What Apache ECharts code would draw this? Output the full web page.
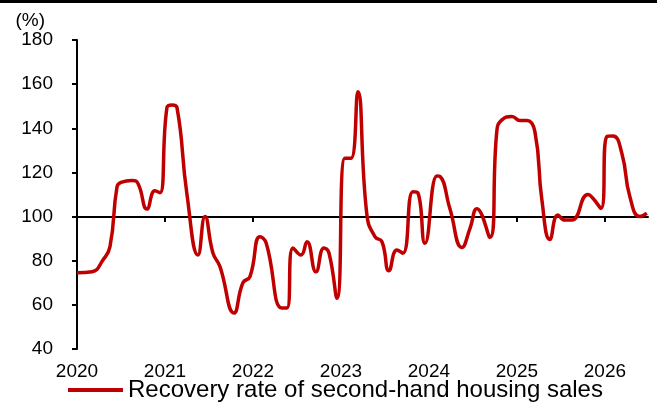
<!DOCTYPE html>
<html>
<head>
<meta charset="utf-8">
<script src="https://cdn.jsdelivr.net/npm/echarts@6/dist/echarts.min.js"></script>
<style>html,body{margin:0;padding:0;background:#fff}#c{width:657px;height:403px}</style>
</head>
<body>
<div id="c"></div>
<script>
// Time positions (decimal years) and recovery rate values (%)
const times = [2020.000,2020.170,2020.295,2020.375,2020.455,2020.500,2020.625,2020.693,2020.795,2020.886,2020.943,
  2021.023,2021.080,2021.136,2021.250,2021.375,2021.455,2021.545,2021.625,2021.784,2021.886,2021.966,
  2022.080,2022.150,2022.330,2022.386,2022.455,2022.545,2022.614,2022.716,2022.807,2022.864,2022.955,
  2023.045,2023.114,2023.193,2023.295,2023.386,2023.466,2023.545,2023.636,2023.705,2023.818,2023.875,2023.955,
  2024.091,2024.125,2024.239,2024.375,2024.466,2024.545,2024.693,2024.773,2024.830,2024.943,
  2025.034,2025.114,2025.205,2025.284,2025.375,2025.466,2025.545,2025.625,2025.807,2025.864,2025.955,
  2026.023,2026.091,2026.193,2026.284,2026.398,2026.477];
const values = [74.6,75.0,80.3,86.4,113.5,115.5,116.3,115.0,103.4,111.7,110.8,
  149.5,150.6,149.5,110.0,82.6,100.0,83.5,77.3,56.3,70.0,72.8,
  90.9,88.0,58.6,58.6,85.8,82.6,88.6,75.0,85.8,83.5,63.0,
  126.4,126.4,156.6,100.8,90.9,88.6,75.4,84.9,83.4,111.3,110.7,87.9,
  118.4,118.2,103.5,86.0,94.5,103.6,90.5,139.2,143.8,145.3,
  143.5,143.5,138.4,107.5,89.6,100.7,98.4,98.4,110.0,108.3,103.7,
  136.3,136.5,128.6,109.0,100.0,101.5];
const yearTicks = [2020,2021,2022,2023,2024,2025,2026];
const seriesName = 'Recovery rate of second-hand housing sales';

const data = times.map((t, i) => [t, values[i]]);
const font = 'Arial, "Liberation Sans", sans-serif';
const chart = echarts.init(document.getElementById('c'), null, {renderer: 'canvas'});
const xMin = 2020, xMax = 2026.49;
chart.setOption({
  animation: false,
  backgroundColor: '#ffffff',
  textStyle: {fontFamily: font, color: '#000'},
  graphic: [{type: 'rect', left: 0, top: 0, shape: {width: 657, height: 3}, style: {fill: '#000'}}],
  grid: [
    {left: 77, right: 9, top: 40, bottom: 54},
    {left: 77, right: 9, top: 40, bottom: 186}
  ],
  legend: {
    data: [seriesName], left: 68, top: 378, padding: 0,
    icon: 'rect', itemWidth: 55, itemHeight: 4,
    textStyle: {fontFamily: font, fontSize: 24, color: '#000'}
  },
  xAxis: [
    {type: 'value', gridIndex: 0, min: xMin, max: xMax, interval: 1,
     axisLine: {show: false}, axisTick: {show: false}, splitLine: {show: false},
     axisLabel: {customValues: yearTicks, margin: 13, fontSize: 19, color: '#000', fontFamily: font,
       formatter: v => String(Math.round(v))}},
    {type: 'value', gridIndex: 1, min: xMin, max: xMax, interval: 1,
     axisLine: {show: true, lineStyle: {color: '#000', width: 2}},
     axisTick: {show: true, customValues: yearTicks, length: 5, inside: false, lineStyle: {color: '#000', width: 2}},
     axisLabel: {show: false}, splitLine: {show: false}}
  ],
  yAxis: [
    {type: 'value', gridIndex: 0, min: 40, max: 180, interval: 20,
     name: '(%)', nameLocation: 'end', nameGap: 19,
     nameTextStyle: {fontFamily: font, fontSize: 19, color: '#000', align: 'right', verticalAlign: 'middle', padding: [0, 32, 0, 0]},
     axisLine: {show: true, lineStyle: {color: '#000', width: 2}},
     axisTick: {show: true, length: 5, inside: false, lineStyle: {color: '#000', width: 2}},
     axisLabel: {margin: 24, fontSize: 19, color: '#000', fontFamily: font},
     splitLine: {show: false}},
    {type: 'value', gridIndex: 1, min: 40, max: 100, show: false}
  ],
  series: [{
    name: seriesName, type: 'line', xAxisIndex: 0, yAxisIndex: 0,
    data: data, smooth: 0.5, showSymbol: false, symbol: 'none',
    lineStyle: {color: '#C00000', width: 3.5}, itemStyle: {color: '#C00000'}, z: 3
  }]
});
</script>
</body>
</html>
